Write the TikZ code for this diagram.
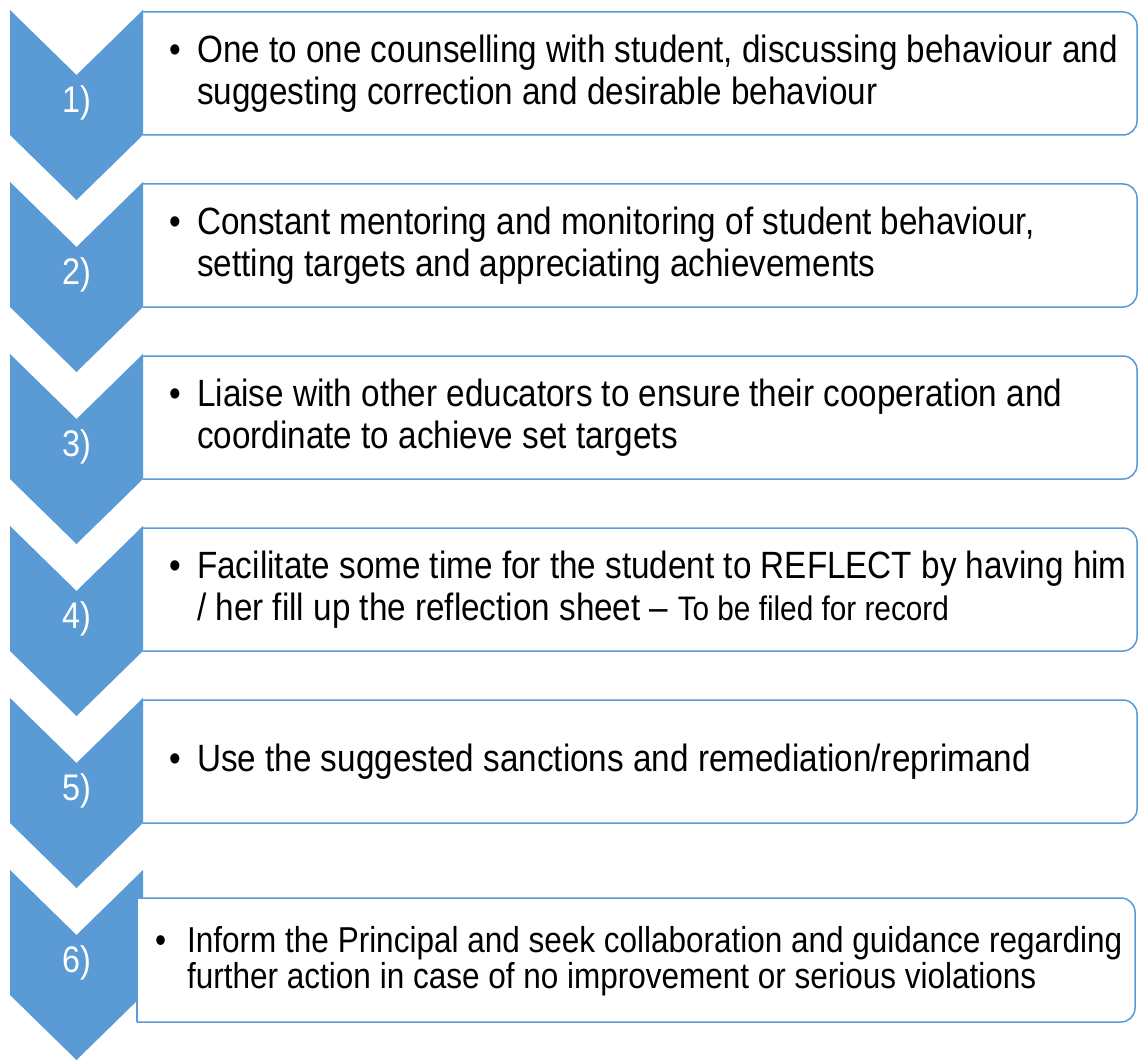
\documentclass[tikz,border=0pt]{standalone}
\usepackage{fontspec}
\setmainfont{Liberation Sans}[FakeStretch=0.875]
\usetikzlibrary{positioning}
\definecolor{chevblue}{HTML}{5B9BD5}
\tikzset{
  chev/.style={fill=chevblue},
  boxline/.style={draw=chevblue,line width=1.5pt,fill=white,rounded corners=14pt},
  numlabel/.style={text=white,inner sep=0pt,font=\fontsize{37}{40}\selectfont},
  steptext/.style={anchor=west,align=left,inner sep=0pt,font=\fontsize{38}{42}\selectfont}
}
\newcommand{\bul}[1][16pt]{\llap{\textbullet\hspace{#1}}}

\begin{document}
\begin{tikzpicture}[x=1pt,y=-1pt]
\useasboundingbox (0,0) rectangle (1139,1059);
% boxes 1--5, open on the left
\foreach \k in {0,...,4} {
  \pgfmathsetmacro{\t}{12+172*\k}
  \filldraw[boxline] (143,\t) -- (1137,\t) -- (1137,\t+123) -- (143,\t+123);
}
% chevrons with numbers
\foreach \n in {1,...,6} {
  \pgfmathsetmacro{\t}{10+172*(\n-1)}
  \fill[chev] (10,\t) -- (76.5,\t+65) -- (143,\t) -- (143,\t+125)
    -- (76.5,\t+190) -- (10,\t+125) -- cycle;
  \node[numlabel] (num\n) at (76.5,\t+93) {\n)};
}
% last box sits over its chevron
\filldraw[boxline] (137,898) -- (1135,898) -- (1135,1022) -- (137,1022);
\draw[boxline] (137,898) -- (137,1022);

\node[steptext] (txt1) at (197,74) {\bul One to one counselling with student, discussing behaviour and\\suggesting correction and desirable behaviour};
\node[steptext] (txt2) at (197,246) {\bul Constant mentoring and monitoring of student behaviour,\\setting targets and appreciating achievements};
\node[steptext] (txt3) at (197,418) {\bul Liaise with other educators to ensure their cooperation and\\coordinate to achieve set targets};
\node[steptext] (txt4) at (197,590) {\bul Facilitate some time for the student to REFLECT by having him\\/ her fill up the reflection sheet -- {\fontsize{34}{36}\selectfont To be filed for record}};
\node[steptext] (txt5) at (197,762) {\bul Use the suggested sanctions and remediation/reprimand};
\node[steptext,font=\fontsize{36}{36}\selectfont] (txt6) at (187,961) {\bul[21pt]Inform the Principal and seek collaboration and guidance regarding\\further action in case of no improvement or serious violations};
\end{tikzpicture}
\end{document}
